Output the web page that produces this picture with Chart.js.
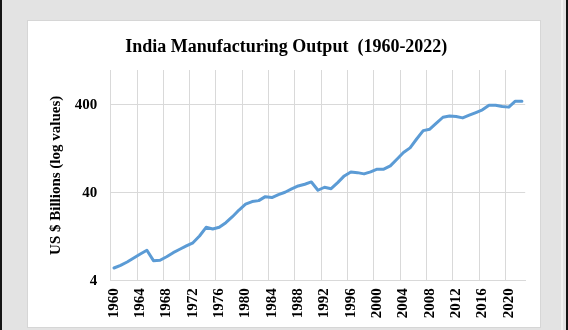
<!DOCTYPE html>
<html>
<head>
<meta charset="utf-8">
<script src="https://cdn.jsdelivr.net/npm/chart.js@4/dist/chart.umd.min.js"></script>
<style>
  html, body { margin: 0; padding: 0; }
  body { width: 568px; height: 330px; background: #e3e3e3; position: relative; overflow: hidden; }
  #lbar { position: absolute; left: 0; top: 0; width: 2px; height: 330px; background: #151515; }
  #rline { position: absolute; left: 561px; top: 0; width: 2px; height: 330px; background: #f2f2f2; }
  #rbar { position: absolute; left: 566px; top: 0; width: 2px; height: 330px; background: #151515; }
  #card { position: absolute; left: 27px; top: 20px; width: 512px; height: 306px; background: #ffffff; border: 1px solid #d6d6d6; }
  #wrap { position: absolute; left: 0; top: 0; width: 568px; height: 330px; }
</style>
</head>
<body>
<div id="lbar"></div>
<div id="rline"></div>
<div id="rbar"></div>
<div id="card"></div>
<div id="wrap"><canvas id="c" width="568" height="330"></canvas></div>
<script>
const years = [];
for (let y = 1960; y <= 2022; y++) years.push(String(y));

// Manufacturing output, US$ billions
const output = [
  5.58, 5.99, 6.53, 7.26, 8.06, 8.88, 6.76, 6.83, 7.50, 8.34,
  9.12, 9.94, 10.8, 12.9, 16.2, 15.5, 16.2, 18.3, 21.4, 25.5,
  29.7, 31.8, 32.6, 36.2, 35.3, 38.2, 40.6, 44.3, 47.9, 50.1,
  53.2, 42.8, 46.3, 44.6, 52.3, 62.3, 69.2, 67.9, 65.7, 69.2,
  74.3, 74.3, 81.0, 96.6, 115, 130, 164, 204, 212, 248,
  290, 300, 295, 285, 306, 328, 352, 398, 398, 384,
  378, 442, 442
];

const yTicks = [4, 40, 400];

const FONT = "'Liberation Serif', 'Times New Roman', serif";

new Chart(document.getElementById('c'), {
  type: 'line',
  data: {
    labels: years,
    datasets: [{
      data: output,
      borderColor: '#5b9bd5',
      borderWidth: 3,
      pointRadius: 0,
      pointHoverRadius: 0,
      tension: 0,
      fill: false,
      borderCapStyle: 'round',
      borderJoinStyle: 'round'
    }]
  },
  options: {
    responsive: false,
    animation: false,
    events: [],
    layout: { padding: { left: 47.5, right: 42.8, top: 0, bottom: 4 } },
    plugins: {
      legend: { display: false },
      tooltip: { enabled: false },
      title: {
        display: true,
        text: 'India Manufacturing Output  (1960-2022)',
        color: '#000000',
        font: { family: FONT, size: 18, weight: 'bold', lineHeight: 1.2 },
        padding: { top: 36.2, bottom: 12.2 }
      }
    },
    scales: {
      x: {
        type: 'category',
        offset: true,
        grid: {
          offset: true,
          drawTicks: false,
          lineWidth: 1,
          color: (ctx) => (ctx.index % 4 === 0 ? '#d9d9d9' : 'rgba(0,0,0,0)')
        },
        border: { display: true, color: '#d9d9d9', width: 1 },
        ticks: {
          autoSkip: false,
          maxRotation: 90,
          minRotation: 90,
          padding: 7.6,
          color: '#000000',
          font: { family: FONT, size: 15, weight: 'bold' },
          callback: function (val, idx) {
            return idx % 4 === 0 ? this.getLabelForValue(val) : '';
          }
        },
        afterFit: (scale) => { scale.height = 330 - 4 - 280.7; }
      },
      y: {
        type: 'logarithmic',
        min: 4,
        max: 1000,
        afterBuildTicks: (scale) => { scale.ticks = yTicks.map(v => ({ value: v })); },
        afterFit: (scale) => { scale.width = 110.7 - 47.5; },
        grid: { drawTicks: false, color: '#d9d9d9', lineWidth: 1 },
        border: { display: false },
        title: {
          display: true,
          text: 'US $ Billions (log values)',
          color: '#000000',
          font: { family: FONT, size: 15, weight: 'bold', lineHeight: 1.2 },
          padding: { top: 0, bottom: 0 }
        },
        ticks: {
          padding: 13.4,
          color: '#000000',
          font: { family: FONT, size: 15, weight: 'bold' },
          callback: (v) => String(v)
        }
      }
    }
  }
});
</script>
</body>
</html>
